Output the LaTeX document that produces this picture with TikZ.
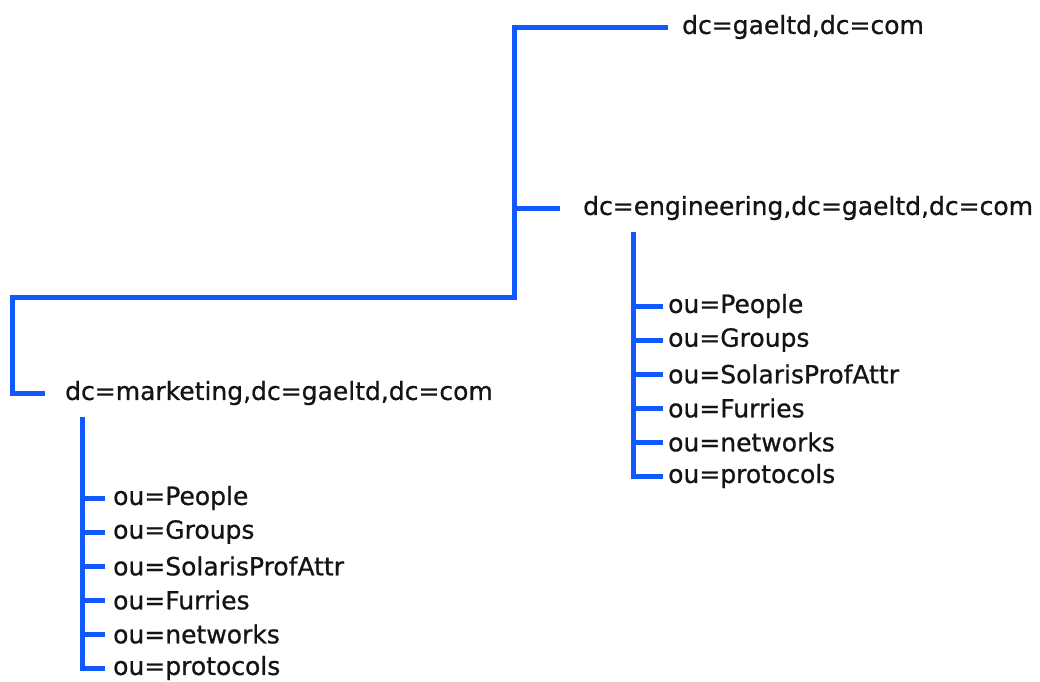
\documentclass[tikz,border=0pt]{standalone}
\usepackage{fontspec}
\newfontfamily\treefont{DejaVu Sans}[FakeBold=0.8]
\definecolor{treeblue}{RGB}{18,88,255}
\definecolor{ink}{RGB}{20,20,20}
\tikzset{
  entry/.style={anchor=west, inner sep=0pt, text=ink, font=\treefont\fontsize{25}{29}\selectfont},
  branch/.style={draw=treeblue, line width=5pt}
}
\begin{document}
\begin{tikzpicture}[x=1pt,y=-1pt]
  \useasboundingbox (0,0) rectangle (1040,681);
  \node[entry] (root) at (682,27) {dc=gaeltd,dc=com};
  \node[entry] (eng) at (583,208) {dc=engineering,dc=gaeltd,dc=com};
  \node[entry] (mkt) at (65,393) {dc=marketing,dc=gaeltd,dc=com};
  \foreach \name/\ou [count=\i from 0] in {people/People,groups/Groups,solaris/SolarisProfAttr,furries/Furries,networks/networks,protocols/protocols}
  {
    \node[entry] (eng-\name) at (668,306+34*\i) {ou=\ou};
    \node[entry] (mkt-\name) at (113,498+34*\i) {ou=\ou};
  }
  \coordinate (trunk) at (514,297);
  \coordinate (drop) at (12,393);
  \coordinate (engtop) at (633,232);
  \coordinate (mkttop) at (82,417);
  \begin{scope}[branch]
    \draw[shorten <=20pt, shorten >=14pt] (mkt.west) -- (drop) |- (trunk) |- (root.west);
    \draw[shorten >=23pt] (trunk |- eng.west) -- (eng.west);
    \draw[shorten >=5pt] (engtop) |- (eng-protocols.west);
    \draw[shorten >=8pt] (mkttop) |- (mkt-protocols.west);
    \foreach \name in {people,groups,solaris,furries,networks}
    {
      \draw[shorten >=5pt] (engtop |- eng-\name.west) -- (eng-\name.west);
      \draw[shorten >=8pt] (mkttop |- mkt-\name.west) -- (mkt-\name.west);
    }
  \end{scope}
\end{tikzpicture}
\end{document}
